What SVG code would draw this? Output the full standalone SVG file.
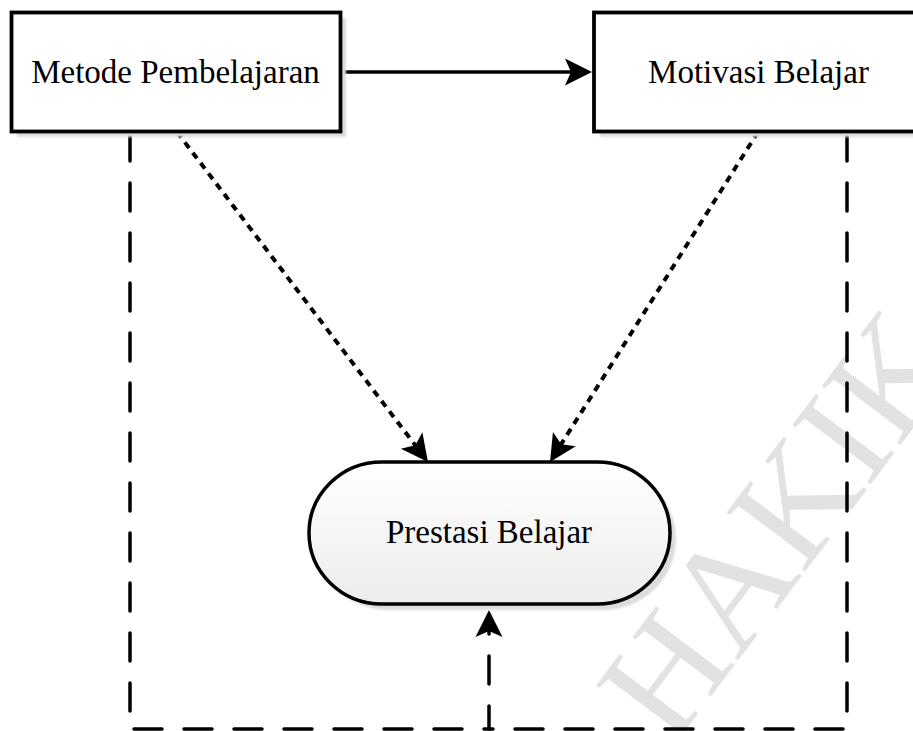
<svg xmlns="http://www.w3.org/2000/svg" width="913" height="731" viewBox="0 0 913 731">
  <style>
    .label { font-family: "Liberation Serif", "Times New Roman", serif; font-size: 33px; fill: #000; text-anchor: middle; }
    .box { fill: #fff; stroke: #000; stroke-width: 3.8; }
    .shadow { fill: #dcdcdc; filter: url(#soft); }
    .solid { fill: none; stroke: #000; stroke-width: 3.5; }
    .dotted { fill: none; stroke: #000; stroke-width: 4; stroke-dasharray: 7 6; }
    .dashed { fill: none; stroke: #000; stroke-width: 3.5; stroke-dasharray: 28 22; stroke-linecap: round; }
    .mark { font-family: "Liberation Serif", "Times New Roman", serif; font-size: 150px; fill: #e2e2e2; }
  </style>
  <defs>
    <filter id="soft" x="-10%" y="-10%" width="120%" height="120%">
      <feGaussianBlur stdDeviation="1.2"/>
    </filter>
    <linearGradient id="pillFill" x1="0" y1="0" x2="0" y2="1">
      <stop offset="0" stop-color="#ffffff"/>
      <stop offset="1" stop-color="#ececec"/>
    </linearGradient>
    <marker id="head" markerUnits="userSpaceOnUse" viewBox="-16 -15 30 30" refX="0" refY="0" markerWidth="30" markerHeight="30" orient="auto">
      <path d="M12,0 L-15,-13.5 L-9,0 L-15,13.5 Z" fill="#000"/>
    </marker>
  </defs>

  <rect width="913" height="731" fill="#fff"/>

  <!-- watermark -->
  <text class="mark" x="672" y="748" transform="rotate(-53 672 748)">HAKIK</text>

  <g id="connectors">
    <!-- solid flow between the two boxes -->
    <path class="solid" d="M341,72 H580" marker-end="url(#head)"/>
    <!-- dotted influences into the pill -->
    <path class="dotted" d="M177,132 L420.7,452.4" marker-end="url(#head)"/>
    <path class="dotted" d="M758,132 L556.4,451.8" marker-end="url(#head)"/>
    <!-- dashed joint path around the bottom -->
    <path class="dashed" d="M130,133 V729 H489 V622" marker-end="url(#head)"/>
    <path class="dashed" d="M847,133 V729 H489"/>
  </g>

  <g id="metode">
    <rect class="shadow" x="17" y="18" width="329" height="119"/>
    <rect class="box" x="11.5" y="12.5" width="329" height="119"/>
    <text class="label" x="175.5" y="83">Metode Pembelajaran</text>
  </g>

  <g id="motivasi">
    <rect class="shadow" x="600" y="18" width="328" height="119"/>
    <rect class="box" x="594" y="12.5" width="328" height="119"/>
    <text class="label" x="758.5" y="83">Motivasi Belajar</text>
  </g>

  <g id="prestasi">
    <path class="shadow" d="M388,468 H603 A73,71 0 0 1 603,610 H388 A73,71 0 0 1 388,468 Z"/>
    <path d="M382,462 H597 A73,71 0 0 1 597,604 H382 A73,71 0 0 1 382,462 Z" fill="url(#pillFill)" stroke="#000" stroke-width="3.5"/>
    <text class="label" x="489" y="543">Prestasi Belajar</text>
  </g>
</svg>
